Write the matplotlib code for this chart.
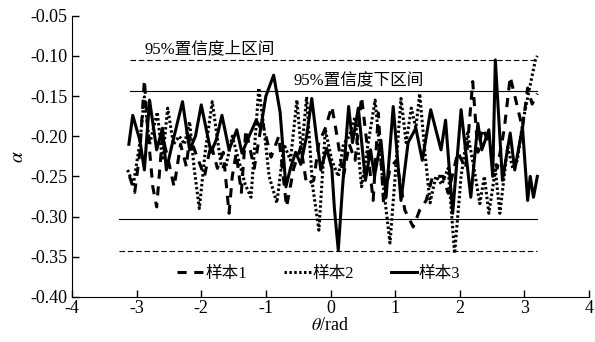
import matplotlib
matplotlib.use('Agg')
import matplotlib.pyplot as plt

plt.rcParams['font.family'] = ['Liberation Serif', 'Noto Sans CJK SC']
plt.rcParams['mathtext.fontset'] = 'stix'

# sample 1 (dashed)
theta1 = [-3.11, -3.03, -2.95, -2.88, -2.83, -2.75, -2.69, -2.60, -2.51, -2.42, -2.32, -2.23,
          -2.18, -2.09, -1.95, -1.85, -1.75, -1.66, -1.57, -1.52, -1.46, -1.38, -1.31, -1.18,
          -1.06, -0.92, -0.80, -0.68, -0.57, -0.46, -0.37, -0.26, -0.18, -0.08, 0.02, 0.08,
          0.20, 0.29, 0.38, 0.48, 0.55, 0.66, 0.74, 0.82, 0.92, 1.02, 1.15, 1.28, 1.38, 1.48,
          1.58, 1.74, 1.82, 1.97, 2.09, 2.20, 2.28, 2.35, 2.46, 2.58, 2.69, 2.78, 2.89, 2.97,
          3.05, 3.12, 3.20]
alpha1 = [-0.25, -0.27, -0.22, -0.13, -0.19, -0.263, -0.288, -0.20, -0.23, -0.263, -0.21, -0.238,
          -0.20, -0.22, -0.25, -0.21, -0.24, -0.22, -0.296, -0.25, -0.221, -0.27, -0.192, -0.24,
          -0.18, -0.226, -0.20, -0.288, -0.24, -0.213, -0.26, -0.255, -0.208, -0.19, -0.163, -0.19,
          -0.25, -0.21, -0.23, -0.151, -0.20, -0.28, -0.171, -0.283, -0.24, -0.23, -0.292, -0.313,
          -0.292, -0.28, -0.25, -0.25, -0.271, -0.22, -0.24, -0.132, -0.22, -0.19, -0.21, -0.24,
          -0.19, -0.126, -0.163, -0.19, -0.14, -0.16, -0.147]

# sample 2 (dotted)
theta2 = [-3.14, -3.05, -2.95, -2.88, -2.80, -2.68, -2.60, -2.52, -2.43, -2.34, -2.26, -2.18,
          -2.11, -2.03, -1.94, -1.83, -1.69, -1.62, -1.52, -1.42, -1.32, -1.23, -1.11, -1.03,
          -0.95, -0.83, -0.72, -0.62, -0.52, -0.45, -0.37, -0.28, -0.18, -0.08, 0.02, 0.12,
          0.20, 0.29, 0.38, 0.48, 0.58, 0.69, 0.80, 0.92, 1.00, 1.09, 1.17, 1.25, 1.32, 1.38,
          1.46, 1.54, 1.63, 1.72, 1.82, 1.92, 2.02, 2.12, 2.22, 2.31, 2.38, 2.45, 2.55, 2.62,
          2.74, 2.82, 2.89, 2.98, 3.08, 3.17, 3.20]
alpha2 = [-0.242, -0.26, -0.208, -0.151, -0.21, -0.17, -0.23, -0.165, -0.21, -0.20, -0.21, -0.182,
          -0.24, -0.29, -0.22, -0.157, -0.238, -0.238, -0.20, -0.23, -0.26, -0.276, -0.14, -0.19,
          -0.25, -0.283, -0.21, -0.23, -0.155, -0.221, -0.151, -0.26, -0.317, -0.192, -0.23, -0.25,
          -0.21, -0.20, -0.176, -0.263, -0.21, -0.155, -0.25, -0.333, -0.25, -0.153, -0.208, -0.165,
          -0.19, -0.147, -0.22, -0.283, -0.25, -0.26, -0.24, -0.346, -0.25, -0.196, -0.24, -0.284,
          -0.25, -0.296, -0.242, -0.296, -0.213, -0.24, -0.23, -0.18, -0.14, -0.105, -0.10]

# sample 3 (solid)
theta3 = [-3.12, -3.06, -2.95, -2.88, -2.80, -2.69, -2.60, -2.54, -2.45, -2.29, -2.18, -2.09,
          -2.00, -1.85, -1.77, -1.68, -1.57, -1.45, -1.37, -1.26, -1.15, -1.08, -1.00, -0.88,
          -0.78, -0.69, -0.62, -0.54, -0.46, -0.37, -0.29, -0.22, -0.15, -0.06, 0.02, 0.06,
          0.12, 0.18, 0.28, 0.34, 0.43, 0.54, 0.62, 0.68, 0.78, 0.86, 0.97, 1.09, 1.20, 1.32,
          1.42, 1.55, 1.71, 1.78, 1.89, 2.02, 2.17, 2.28, 2.34, 2.45, 2.51, 2.55, 2.66, 2.78,
          2.85, 2.97, 3.05, 3.09, 3.14, 3.20]
alpha3 = [-0.21, -0.174, -0.205, -0.242, -0.155, -0.217, -0.19, -0.242, -0.21, -0.157, -0.217, -0.20,
          -0.161, -0.22, -0.205, -0.174, -0.217, -0.192, -0.221, -0.20, -0.18, -0.19, -0.15, -0.124,
          -0.17, -0.263, -0.24, -0.22, -0.235, -0.20, -0.153, -0.20, -0.242, -0.215, -0.24, -0.29,
          -0.342, -0.27, -0.163, -0.208, -0.165, -0.255, -0.217, -0.25, -0.205, -0.276, -0.163, -0.28,
          -0.208, -0.19, -0.23, -0.167, -0.217, -0.18, -0.296, -0.167, -0.276, -0.184, -0.217, -0.192,
          -0.25, -0.105, -0.255, -0.196, -0.242, -0.189, -0.28, -0.25, -0.276, -0.25]

upper_dash = -0.105
upper_solid = -0.144
lower_solid = -0.303
lower_dash = -0.343

fig = plt.figure(figsize=(5.95, 3.42), dpi=100)
ax = fig.add_axes([0.121, 0.132, 0.869, 0.822])

ax.plot(theta1, alpha1, color='black', lw=2.2, linestyle=(0, (3, 2.5)), label='样本1')
ax.plot(theta2, alpha2, color='black', lw=2.2, linestyle=(0, (0.8, 0.8)), label='样本2')
ax.plot(theta3, alpha3, color='black', lw=2.2, linestyle='-', label='样本3')

ax.plot([-3.1, 3.2], [upper_dash, upper_dash], color='black', lw=0.8, linestyle=(0, (5, 2.5)))
ax.plot([-3.1, 3.2], [upper_solid, upper_solid], color='black', lw=0.8)
ax.plot([-3.28, 3.2], [lower_solid, lower_solid], color='black', lw=0.8)
ax.plot([-3.28, 3.2], [lower_dash, lower_dash], color='black', lw=0.8, linestyle=(0, (5, 2.5)))

ax.text(-2.88, upper_dash + 0.003, '95%置信度上区间', fontsize=12, va='bottom', ha='left')
ax.text(-0.57, upper_solid + 0.003, '95%置信度下区间', fontsize=12, va='bottom', ha='left')

ax.set_xlim(-4, 4)
ax.set_ylim(-0.40, -0.05)
ax.set_xticks(range(-4, 5))
ax.set_xticklabels([str(v) for v in range(-4, 5)])
yt = [-0.40, -0.35, -0.30, -0.25, -0.20, -0.15, -0.10, -0.05]
ax.set_yticks(yt)
ax.set_yticklabels(['%.2f' % v for v in yt])
ax.tick_params(direction='in', length=5, labelsize=13, width=1)
ax.tick_params(axis='x', pad=2)
for s in ['top', 'right']:
    ax.spines[s].set_visible(False)

ax.set_xlabel(r'$\theta$/rad', fontsize=13, labelpad=0)
ax.set_ylabel(r'$\alpha$', fontsize=14, labelpad=2)

ax.legend(loc='lower left', bbox_to_anchor=(0.175, 0.0), ncol=3, frameon=False,
          fontsize=12, handlelength=1.6, handletextpad=0.1, columnspacing=2.2)

plt.savefig('out.png', dpi=100)
